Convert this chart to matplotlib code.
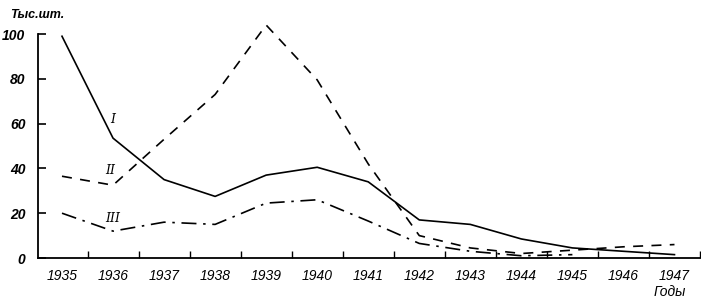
import matplotlib
matplotlib.use("Agg")
import matplotlib.pyplot as plt
import numpy as np

years = [1935, 1936, 1937, 1938, 1939, 1940, 1941, 1942, 1943, 1944, 1945, 1946, 1947]
series_I = [99, 53.5, 35, 27.5, 37, 40.5, 34, 17, 15, 8.5, 4.5, 3, 1.5]
series_II = [36.5, 32.5, 53, 73, 104, 79.5, 42, 10, 4.5, 2, 3.5, 5, 6]
years_III = [1935, 1936, 1937, 1938, 1939, 1940, 1941, 1942, 1943, 1944, 1945]
series_III = [20, 12, 16, 15, 24.5, 26, 16.5, 6.5, 3, 1, 1.5]
yticks = [0, 20, 40, 60, 80, 100]

fam = ['Liberation Sans Narrow', 'Liberation Sans', 'DejaVu Sans']

fig = plt.figure(figsize=(7.01, 3.02), dpi=100)
ax = fig.add_axes([38/701, 44/302, 662/701, 224/302])
ax.set_xlim(1934.53, 1947.5)
ax.set_ylim(0, 100)

ax.plot(years, series_I, color='black', lw=1.2, solid_joinstyle='round', clip_on=False)
ax.plot(years, series_II, color='black', lw=1.2, dashes=(6, 5), clip_on=False)
ax.plot(years_III, series_III, color='black', lw=1.2, dashes=(9, 4, 1.5, 4), clip_on=False)

ax.text(1936.0, 62, 'I', family='DejaVu Serif', style='italic', fontsize=9, ha='center', va='center')
ax.text(1935.95, 39, 'II', family='DejaVu Serif', style='italic', fontsize=9, ha='center', va='center')
ax.text(1936.0, 17.5, 'III', family='DejaVu Serif', style='italic', fontsize=9, ha='center', va='center')

for s in ['top', 'right']:
    ax.spines[s].set_visible(False)
ax.spines['left'].set_linewidth(1.3)
ax.spines['bottom'].set_linewidth(1.3)

ax.set_yticks(yticks)
ax.set_yticklabels([str(v) for v in yticks], family=fam, style='italic', weight='bold', fontsize=10)
ax.tick_params(axis='y', direction='in', length=6, width=1.2, pad=9)

ax.set_xticks(years)
ax.set_xticklabels([str(y) for y in years], family=fam, style='italic', fontsize=10)
ax.tick_params(axis='x', which='major', length=0, pad=8)
ax.set_xticks(np.array(years) + 0.5, minor=True)
ax.tick_params(axis='x', which='minor', direction='in', length=5, width=1.0)

fig.text(10/701, 1 - 15/302, 'Тыс.шт.', family=fam, style='italic', weight='bold', fontsize=9, ha='left', va='center')
fig.text(670/701, 1 - 292/302, 'Годы', family=fam, style='italic', fontsize=10, ha='center', va='center')

fig.savefig('out.png', dpi=100)
